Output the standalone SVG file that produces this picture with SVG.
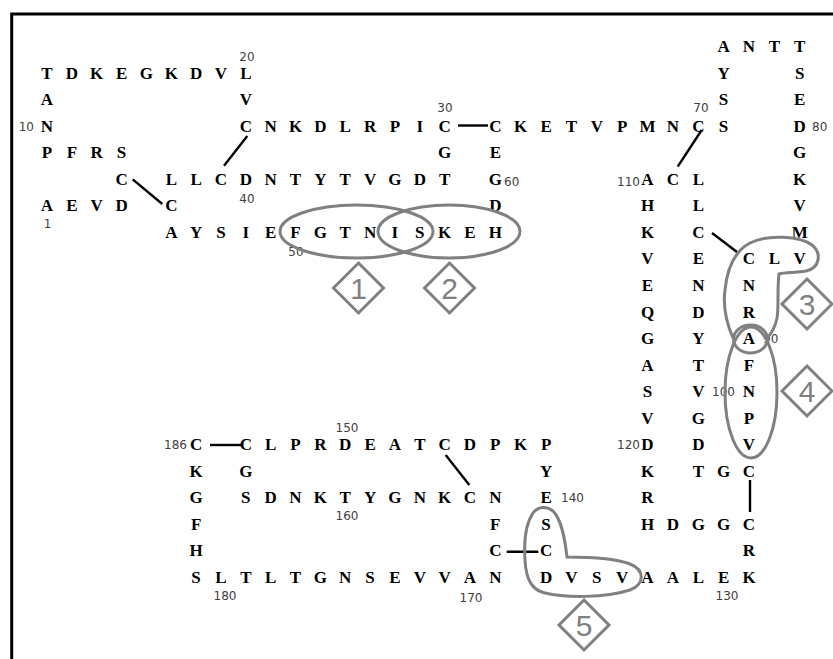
<svg xmlns="http://www.w3.org/2000/svg" width="833" height="659" viewBox="0 0 833 659">
<style>
.r{font-family:"Liberation Serif","Times New Roman",serif;font-weight:bold;font-size:17px;fill:#000;text-anchor:middle}
.n{font-family:"DejaVu Sans",Verdana,sans-serif;font-size:12px;fill:#404040}
.m{text-anchor:middle}.e{text-anchor:end}
.b{stroke:#000;stroke-width:2.4;fill:none;stroke-linecap:butt}
.g{stroke:#808080;stroke-width:3;fill:none}
.d{stroke:#808080;stroke-width:3;fill:#fff;stroke-linejoin:miter}
.dn{font-family:"Liberation Sans",Arial,sans-serif;font-size:30px;fill:#808080;text-anchor:middle}
</style>
<rect width="833" height="659" fill="#fff"/>
<path id="border" d="M11.7,659 V14 H833" stroke="#000" stroke-width="3" fill="none"/>

<g id="residues">
<g id="seg-top-left">
<text class="r" x="47 71.9 96.7 121.6 146.4 171.3 196.1 221 245.8" y="78.5">TDKEGKDVL</text>
<text class="r" x="47" y="105.1">A</text>
<text class="r" x="245.8" y="105.1">V</text>
<text class="r" x="47" y="131.6">N</text>
<text class="r" x="47 71.9 96.7 121.6" y="158.2">PFRS</text>
<text class="r" x="121.6" y="184.7">C</text>
<text class="r" x="47 71.9 96.7 121.6" y="211.3">AEVD</text>
<text class="r" x="171.3" y="211.3">C</text>
</g>
<g id="seg-middle">
<text class="r" x="245.8 270.7 295.5 320.4 345.2 370.1 394.9 419.8 444.6" y="131.6">CNKDLRPIC</text>
<text class="r" x="495.3 520.7 546.1 571.4 596.8 622.2 647.5 672.9 698.3 723.6" y="131.6">CKETVPMNCS</text>
<text class="r" x="444.6" y="158.2">G</text>
<text class="r" x="495.3" y="158.2">E</text>
<text class="r" x="171.3 196.1 221 245.8 270.7 295.5 320.4 345.2 370.1 394.9 419.8 444.6" y="184.7">LLCDNTYTVGDT</text>
<text class="r" x="495.3" y="184.7">G</text>
<text class="r" x="495.3" y="211.3">D</text>
<text class="r" x="171.3 196.1 221 245.8 270.7 295.5 320.4 345.2 370.1 394.9 419.8 444.6 470 495.3" y="237.8">AYSIEFGTNISKEH</text>
</g>
<g id="seg-right">
<text class="r" x="723.6 749 774.4 799.7" y="52">ANTT</text>
<text class="r" x="723.6" y="78.5">Y</text>
<text class="r" x="799.7" y="78.5">S</text>
<text class="r" x="723.6" y="105.1">S</text>
<text class="r" x="799.7" y="105.1">E</text>
<text class="r" x="799.7" y="131.6">D</text>
<text class="r" x="799.7" y="158.2">G</text>
<text class="r" x="647.5 672.9 698.3" y="184.7">ACL</text>
<text class="r" x="799.7" y="184.7">K</text>
<text class="r" x="647.5" y="211.3">H</text>
<text class="r" x="698.3" y="211.3">L</text>
<text class="r" x="799.7" y="211.3">V</text>
<text class="r" x="647.5" y="237.8">K</text>
<text class="r" x="698.3" y="237.8">C</text>
<text class="r" x="799.7" y="237.8">M</text>
<text class="r" x="647.5" y="264.4">V</text>
<text class="r" x="698.3" y="264.4">E</text>
<text class="r" x="749 774.4 799.7" y="264.4">CLV</text>
<text class="r" x="647.5" y="290.9">E</text><text class="r" x="698.3" y="290.9">N</text><text class="r" x="749" y="290.9">N</text>
<text class="r" x="647.5" y="317.5">Q</text><text class="r" x="698.3" y="317.5">D</text><text class="r" x="749" y="317.5">R</text>
<text class="r" x="647.5" y="344">G</text><text class="r" x="698.3" y="344">Y</text><text class="r" x="749" y="344">A</text>
<text class="r" x="647.5" y="370.6">A</text><text class="r" x="698.3" y="370.6">T</text><text class="r" x="749" y="370.6">F</text>
<text class="r" x="647.5" y="397.1">S</text><text class="r" x="698.3" y="397.1">V</text><text class="r" x="749" y="397.1">N</text>
<text class="r" x="647.5" y="423.7">V</text><text class="r" x="698.3" y="423.7">G</text><text class="r" x="749" y="423.7">P</text>
<text class="r" x="647.5" y="450.2">D</text><text class="r" x="698.3" y="450.2">D</text><text class="r" x="749" y="450.2">V</text>
<text class="r" x="647.5" y="476.8">K</text>
<text class="r" x="698.3 723.6 749" y="476.8">TGC</text>
<text class="r" x="647.5" y="503.3">R</text>
<text class="r" x="647.5 672.9 698.3 723.6 749" y="529.9">HDGGC</text>
<text class="r" x="749" y="556.4">R</text>
<text class="r" x="546.1 571.4 596.8 622.2 647.5 672.9 698.3 723.6 749" y="583">DVSVAALEK</text>
</g>
<g id="seg-bottom">
<text class="r" x="196.1" y="450.2">C</text>
<text class="r" x="245.8 270.7 295.5 320.4 345.2 370.1 394.9 419.8 444.6 470 495.3 520.7 546.1" y="450.2">CLPRDEATCDPKP</text>
<text class="r" x="196.1" y="476.8">K</text>
<text class="r" x="245.8" y="476.8">G</text>
<text class="r" x="546.1" y="476.8">Y</text>
<text class="r" x="196.1" y="503.3">G</text>
<text class="r" x="245.8 270.7 295.5 320.4 345.2 370.1 394.9 419.8 444.6 470 495.3" y="503.3">SDNKTYGNKCN</text>
<text class="r" x="546.1" y="503.3">E</text>
<text class="r" x="196.1" y="529.9">F</text>
<text class="r" x="495.3" y="529.9">F</text>
<text class="r" x="546.1" y="529.9">S</text>
<text class="r" x="196.1" y="556.4">H</text>
<text class="r" x="495.3" y="556.4">C</text>
<text class="r" x="546.1" y="556.4">C</text>
<text class="r" x="196.1 221 245.8 270.7 295.5 320.4 345.2 370.1 394.9 419.8 444.6 470 495.3" y="583">SLTLTGNSEVVAN</text>
</g>
</g>

<g id="labels">
<text class="n m" x="247" y="60.5">20</text>
<text class="n e" x="34" y="130.5">10</text>
<text class="n m" x="445" y="112">30</text>
<text class="n m" x="701" y="111.5">70</text>
<text class="n" x="812" y="130.5">80</text>
<text class="n e" x="640" y="185.5">110</text>
<text class="n" x="504" y="185.5">60</text>
<text class="n m" x="247" y="202.5">40</text>
<text class="n m" x="47.5" y="227.5">1</text>
<text class="n m" x="296" y="255.5">50</text>
<text class="n" x="763" y="343">90</text>
<text class="n" x="712" y="396">100</text>
<text class="n e" x="640" y="449">120</text>
<text class="n e" x="187" y="449">186</text>
<text class="n" x="561" y="502">140</text>
<text class="n m" x="347" y="431.5">150</text>
<text class="n m" x="347" y="520">160</text>
<text class="n m" x="471" y="601.5">170</text>
<text class="n m" x="225" y="599.5">180</text>
<text class="n m" x="727" y="599.5">130</text>
</g>

<g id="connectors">
<line class="b" x1="247.3" y1="136" x2="224" y2="165.7"/>
<line class="b" x1="132.7" y1="179.3" x2="162.3" y2="204"/>
<line class="b" x1="458" y1="125.5" x2="488" y2="125.5"/>
<line class="b" x1="701.7" y1="130" x2="677.7" y2="166.7"/>
<line class="b" x1="712" y1="233" x2="737" y2="252"/>
<line class="b" x1="750" y1="480" x2="750" y2="512"/>
<line class="b" x1="210" y1="445" x2="241.7" y2="445"/>
<line class="b" x1="445.7" y1="455" x2="469.3" y2="485"/>
<line class="b" x1="506.7" y1="551.7" x2="538.3" y2="551.7"/>
</g>

<g id="region1">
<ellipse class="g" cx="356.5" cy="231.5" rx="76.5" ry="26.5"/>
<polygon class="d" points="358.5,263 383.5,288 358.5,313 333.5,288"/>
<text class="dn" x="358.5" y="298.7">1</text>
</g>
<g id="region2">
<ellipse class="g" cx="449" cy="231.5" rx="71" ry="26.5"/>
<polygon class="d" points="449.5,263 474.5,288 449.5,313 424.5,288"/>
<text class="dn" x="449.5" y="298.7">2</text>
</g>
<g id="region3">
<path class="g" d="M733,338 C726,322 723,305 725,290 C727,270 733,252 750,243 C768,234 800,236 812,245 C822,253 820,268 806,271 C795,273 785,272 779,274 C777,290 779,305 777,318 C775,328 771,334 767,338"/>
<ellipse class="g" cx="750.5" cy="339" rx="17" ry="14"/>
<polygon class="d" points="807,279 832,304 807,329 782,304"/>
<text class="dn" x="807" y="314.7">3</text>
</g>
<g id="region4">
<ellipse class="g" cx="751" cy="392.5" rx="26" ry="65.5"/>
<polygon class="d" points="807,366 832,391 807,416 782,391"/>
<text class="dn" x="807" y="401.7">4</text>
</g>
<g id="region5">
<path class="g" d="M567,557 C565,540 562,520 553,511 C547,506 538,506 533,513 C525,525 524,545 525,560 C526,580 532,590 545,593 C565,598 605,598 630,590 C645,584 645,570 630,564 C615,558 590,557 567,557 Z"/>
<polygon class="d" points="584,600 609,625 584,650 559,625"/>
<text class="dn" x="584" y="635.7">5</text>
</g>
</svg>
